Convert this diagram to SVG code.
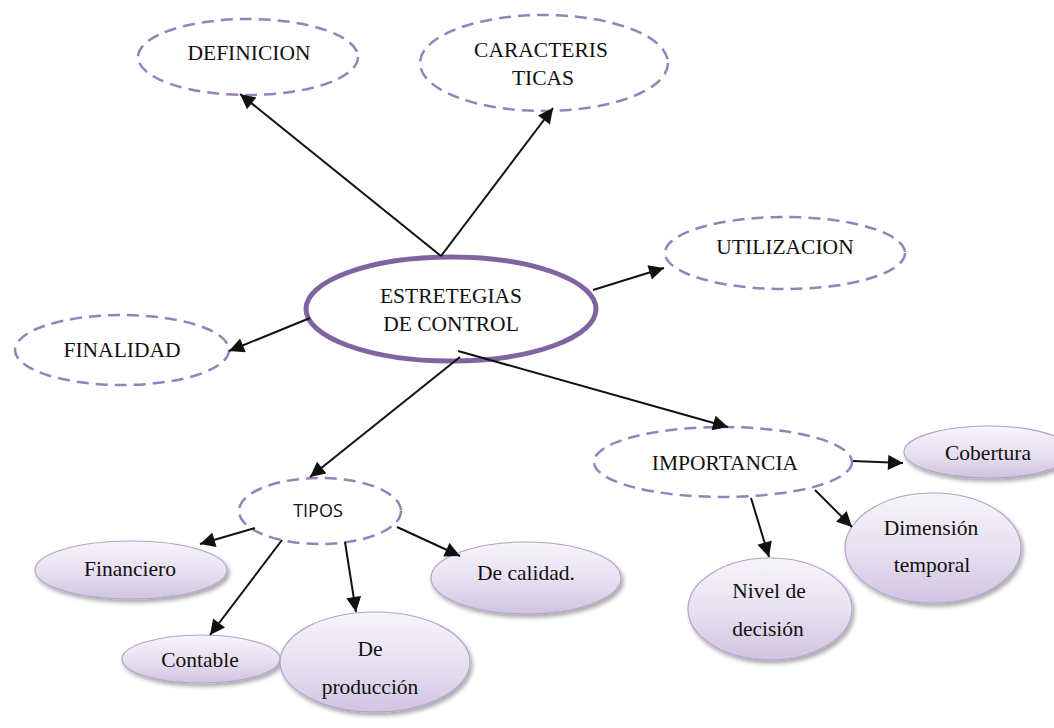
<svg xmlns="http://www.w3.org/2000/svg" width="1054" height="728" viewBox="0 0 1054 728">
  <defs>
    <style>
      text { font-family: "Liberation Serif", "Times New Roman", serif; font-size: 21.5px; fill: #111; text-anchor: middle; }
      text.sans { font-family: "Open Sans", "Liberation Sans", sans-serif; font-size: 18px; }
      .main { fill: #fff; stroke: #8064a2; stroke-width: 5; }
      .dash { fill: #fff; stroke: #9582b8; stroke-width: 2.5; stroke-dasharray: 12 7; }
      .leaf { fill: url(#leafFill); stroke: #b3a3cb; stroke-width: 1.2; filter: url(#shadow); }
      .edge { stroke: #111; stroke-width: 2; fill: none; marker-end: url(#arrow); }
    </style>
    <linearGradient id="leafFill" x1="0" y1="0" x2="0" y2="1">
      <stop offset="0" stop-color="#f7f5fa"/>
      <stop offset="0.55" stop-color="#e6dff0"/>
      <stop offset="1" stop-color="#d0c4e1"/>
    </linearGradient>
    <filter id="shadow" x="-10%" y="-10%" width="125%" height="135%">
      <feGaussianBlur in="SourceAlpha" stdDeviation="2"/>
      <feOffset dx="2" dy="3" result="b"/>
      <feComponentTransfer><feFuncA type="linear" slope="0.35"/></feComponentTransfer>
      <feMerge><feMergeNode/><feMergeNode in="SourceGraphic"/></feMerge>
    </filter>
    <marker id="arrow" viewBox="0 0 10 10" refX="10" refY="5" markerWidth="8.5" markerHeight="7.5" markerUnits="strokeWidth" orient="auto">
      <path d="M0,0 L10,5 L0,10 z" fill="#111"/>
    </marker>
  </defs>

  <rect width="1054" height="728" fill="#fff"/>

  <!-- central node -->
  <g id="estrategias">
    <ellipse class="main" cx="451" cy="309" rx="145" ry="52"/>
    <text x="451" y="303">ESTRETEGIAS</text>
    <text x="451" y="331">DE CONTROL</text>
  </g>

  <g id="definicion">
    <ellipse class="dash" cx="248" cy="57" rx="110" ry="38"/>
    <text x="249" y="60">DEFINICION</text>
  </g>

  <g id="caracteristicas">
    <ellipse class="dash" cx="544" cy="63" rx="124" ry="48"/>
    <text x="541" y="57">CARACTERIS</text>
    <text x="543" y="85">TICAS</text>
  </g>

  <g id="utilizacion">
    <ellipse class="dash" cx="785" cy="253" rx="120" ry="36"/>
    <text x="785" y="254">UTILIZACION</text>
  </g>

  <g id="finalidad">
    <ellipse class="dash" cx="122" cy="350" rx="107" ry="35"/>
    <text x="122" y="357">FINALIDAD</text>
  </g>

  <g id="tipos">
    <ellipse class="dash" cx="320" cy="511" rx="81" ry="33"/>
    <text class="sans" x="318" y="517">TIPOS</text>
  </g>

  <g id="importancia">
    <ellipse class="dash" cx="723" cy="462" rx="129" ry="35"/>
    <text x="725" y="470">IMPORTANCIA</text>
  </g>

  <g id="financiero">
    <ellipse class="leaf" cx="131" cy="570" rx="96" ry="29"/>
    <text x="130" y="576">Financiero</text>
  </g>

  <g id="contable">
    <ellipse class="leaf" cx="201" cy="659" rx="79" ry="24"/>
    <text x="200" y="667">Contable</text>
  </g>

  <g id="produccion">
    <ellipse class="leaf" cx="375" cy="662" rx="95" ry="50"/>
    <text x="370" y="656">De</text>
    <text x="370" y="694">producción</text>
  </g>

  <g id="calidad">
    <ellipse class="leaf" cx="526" cy="578" rx="95" ry="36"/>
    <text x="526" y="580">De calidad.</text>
  </g>

  <g id="cobertura">
    <ellipse class="leaf" cx="988" cy="452" rx="84" ry="26"/>
    <text x="988" y="460">Cobertura</text>
  </g>

  <g id="dimension">
    <ellipse class="leaf" cx="933" cy="548" rx="88" ry="55"/>
    <text x="931" y="535">Dimensión</text>
    <text x="932" y="572">temporal</text>
  </g>

  <g id="nivel">
    <ellipse class="leaf" cx="770" cy="609" rx="82" ry="51"/>
    <text x="769" y="598">Nivel de</text>
    <text x="768" y="636">decisión</text>
  </g>

  <!-- connectors, drawn last so they sit over node outlines -->
  <g id="connectors">
    <line class="edge" x1="441" y1="256" x2="240" y2="94"/>
    <line class="edge" x1="441" y1="256" x2="553" y2="108"/>
    <line class="edge" x1="593" y1="290" x2="664" y2="268"/>
    <line class="edge" x1="310" y1="318" x2="229" y2="351"/>
    <line class="edge" x1="460" y1="357" x2="310" y2="477"/>
    <line class="edge" x1="458" y1="351" x2="728" y2="427"/>
    <line class="edge" x1="255" y1="528" x2="200" y2="544"/>
    <line class="edge" x1="282" y1="540" x2="210" y2="635"/>
    <line class="edge" x1="345" y1="542" x2="356" y2="612"/>
    <line class="edge" x1="397" y1="527" x2="460" y2="556"/>
    <line class="edge" x1="853" y1="461" x2="903" y2="463"/>
    <line class="edge" x1="815" y1="490" x2="852" y2="527"/>
    <line class="edge" x1="751" y1="498" x2="769" y2="557"/>
  </g>
</svg>
